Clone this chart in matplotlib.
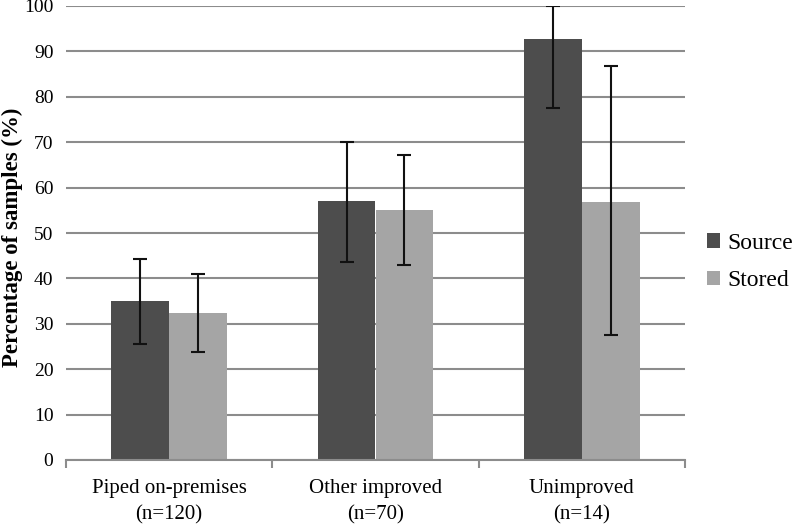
import matplotlib
matplotlib.use("Agg")
import matplotlib.pyplot as plt
import numpy as np

categories = ["Piped on-premises\n(n=120)", "Other improved\n(n=70)", "Unimproved\n(n=14)"]
series = ["Source", "Stored"]
source_vals = [35.0, 57.0, 92.7]
source_lo = [25.6, 43.6, 77.5]
source_hi = [44.2, 70.0, 100.0]
stored_vals = [32.4, 55.0, 56.9]
stored_lo = [23.7, 43.0, 27.6]
stored_hi = [41.0, 67.2, 86.8]
yticks = list(range(0, 101, 10))

plt.rcParams['font.family'] = ['Liberation Serif', 'DejaVu Serif']

fig = plt.figure(figsize=(7.97, 5.25), dpi=100)
ax = fig.add_axes([66/797, 1-460/525, (685-66)/797, (460-6)/525])

x = np.arange(len(categories))
w = 0.28
colors = ["#4d4d4d", "#a5a5a5"]
for i, (vals, lo, hi) in enumerate([(source_vals, source_lo, source_hi),
                                    (stored_vals, stored_lo, stored_hi)]):
    vals = np.array(vals); lo = np.array(lo); hi = np.array(hi)
    pos = x + (i - 0.5) * w
    ax.bar(pos, vals, w, color=colors[i], label=series[i], zorder=2)
    ax.errorbar(pos, vals, yerr=[vals - lo, hi - vals], fmt='none', ecolor='#111111',
                elinewidth=1.5, capsize=5, capthick=1.5, zorder=3)

ax.set_xlim(-0.5, len(categories) - 0.5)
ax.set_ylim(0, 100)
ax.set_yticks(yticks)
ax.set_yticklabels([str(t) for t in yticks], fontsize=14)
ax.yaxis.grid(True, color='#8c8c8c', linewidth=1.5, zorder=0)
ax.set_axisbelow(True)
ax.tick_params(axis='y', length=0, pad=9)
ax.set_xticks(x)
ax.set_xticklabels(categories, fontsize=15, linespacing=1.5)
ax.tick_params(axis='x', length=0, pad=14)
ax.set_xticks(np.arange(-0.5, len(categories), 1.0), minor=True)
ax.tick_params(axis='x', which='minor', length=6, width=1.5, color='#8c8c8c')
for s in ['top', 'right', 'left']:
    ax.spines[s].set_visible(False)
ax.spines['bottom'].set_color('#8c8c8c')
ax.spines['bottom'].set_linewidth(1.5)

fig.text(12/797, 1 - 237/525, "Percentage of samples (%)", rotation=90, fontsize=16.5,
         fontweight='bold', ha='center', va='center')

ax.legend(loc='center left', bbox_to_anchor=(1.02, 0.436), frameon=False, fontsize=17,
          handlelength=0.55, handleheight=0.55, handletextpad=0.3, labelspacing=0.7,
          borderaxespad=0)

fig.savefig("out.png", dpi=100)
